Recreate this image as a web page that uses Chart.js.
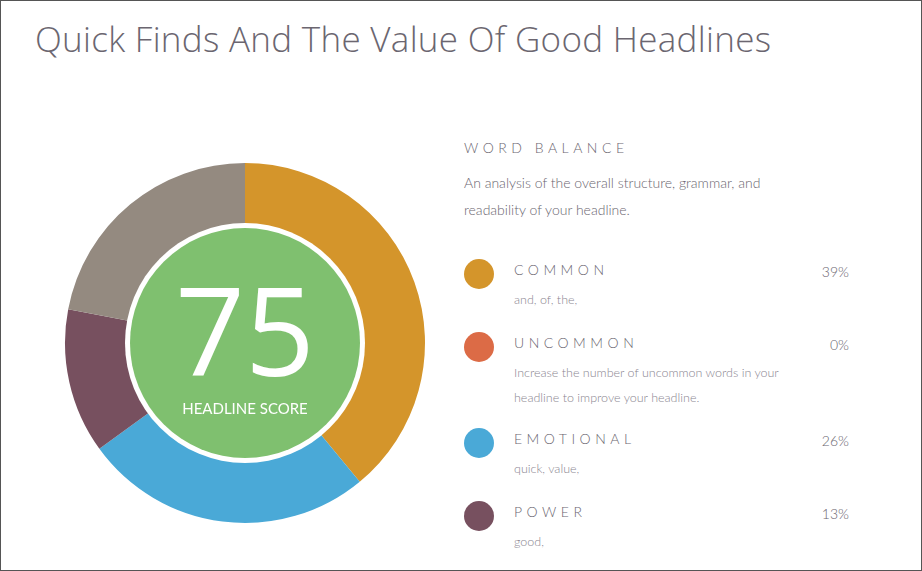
<!DOCTYPE html>
<html><head><meta charset="utf-8">
<script src="https://cdn.jsdelivr.net/npm/chart.js@4"></script>
<style>
html,body{margin:0;padding:0;background:#fff;}
#frame{position:absolute;left:0;top:0;width:920px;height:569px;border:1px solid #555;overflow:hidden;font-family:Lato,"Open Sans",sans-serif;}
h1{position:absolute;left:34px;top:14px;margin:0;font-weight:300;font-size:35px;color:#6b6670;font-family:"Open Sans",Lato,sans-serif;letter-spacing:0.3px}
#wrap{position:absolute;left:62px;top:160px;width:364px;height:364px;}
.t{position:absolute;color:#6b6670;font-weight:300}
.hd{letter-spacing:4.5px;font-size:14px;color:#6b6670}
.sm{font-size:12.5px;color:#8a8590;line-height:25px}
.dot{position:absolute;width:30px;height:30px;border-radius:50%;}
.pc{position:absolute;font-size:14px;color:#6b6670;text-align:right;width:60px;left:788px;font-weight:300}
</style></head><body>
<div id="frame">
<h1>Quick Finds And The Value Of Good Headlines</h1>
<div id="wrap"><canvas id="c" width="364" height="364"></canvas></div>
<div class="t hd" style="left:463px;top:138px">WORD BALANCE</div>
<div class="t" style="left:463px;top:168px;font-size:14px;line-height:27px;color:#6b6670">An analysis of the overall structure, grammar, and<br>readability of your headline.</div>
<div id="legend"></div>
</div>
<script>
const categories=["Common","Uncommon","Emotional","Power","Neutral"];
const values=[39,0,26,13,22];
const colors=["#d4952b","#dc6b46","#4aa9d7","#77505f","#948a80"];
const legendNames=["COMMON","UNCOMMON","EMOTIONAL","POWER"];
const legendNotes=["and, of, the,","Increase the number of uncommon words in your<br>headline to improve your headline.","quick, value,","good,"];
const legendTops=[258,331,427,500];
const score="75";
let h='';
legendNames.forEach((n,i)=>{const y=legendTops[i];
h+=`<div class="dot" style="left:463px;top:${y}px;background:${colors[i]}"></div>`;
h+=`<div class="t hd" style="left:513px;top:${y+2}px">${n}</div>`;
h+=`<div class="pc" style="top:${y+4}px">${values[i]}%</div>`;
h+=`<div class="t sm" style="left:513px;top:${y+28}px">${legendNotes[i]}</div>`;});
document.getElementById('legend').innerHTML=h;
const center={id:'center',afterDraw(ch){const a=ch.getDatasetMeta(0).data[0];const ctx=ch.ctx;const x=a.x,y=a.y;
ctx.save();ctx.beginPath();ctx.arc(x,y,120,0,Math.PI*2);ctx.fillStyle='#fff';ctx.fill();
ctx.beginPath();ctx.arc(x,y,115,0,Math.PI*2);ctx.fillStyle='#7fc06f';ctx.fill();
ctx.fillStyle='#fff';ctx.textAlign='center';ctx.textBaseline='alphabetic';
ctx.font='500 122px "Open Sans",Lato,sans-serif';ctx.fillText(score,x,y+33);
ctx.font='15px Lato,sans-serif';ctx.fillText('HEADLINE SCORE',x,y+71);ctx.restore();}};
new Chart(document.getElementById('c'),{type:'doughnut',data:{labels:categories,datasets:[{data:values,backgroundColor:colors,borderWidth:0}]},
options:{responsive:false,animation:false,cutout:'66%',plugins:{legend:{display:false},tooltip:{enabled:false}},layout:{padding:2}},plugins:[center]});
</script>
</body></html>
